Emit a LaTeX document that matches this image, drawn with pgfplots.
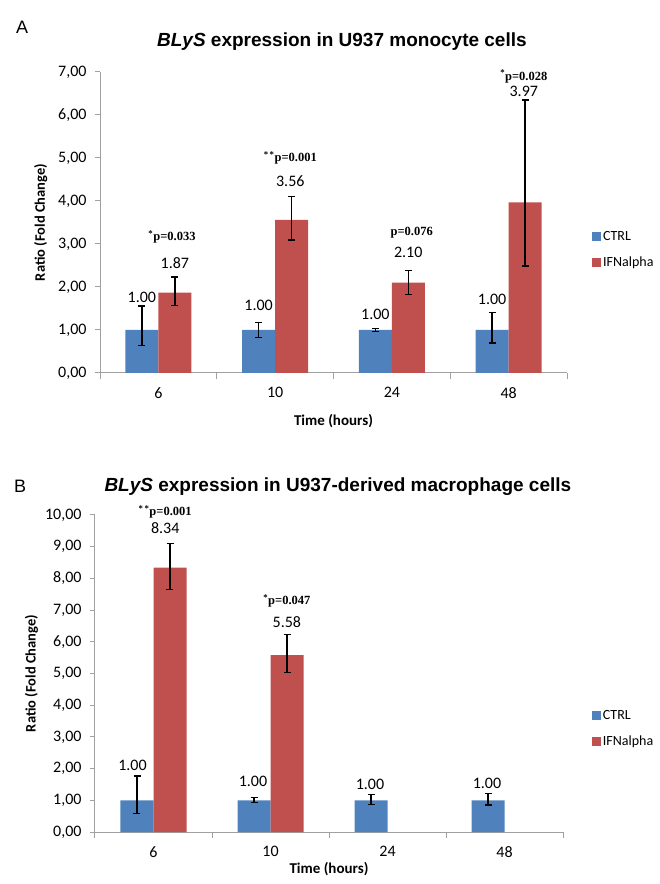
\documentclass[border=0pt]{standalone}
\usepackage{fontspec}
\setmainfont{Carlito}
\newfontfamily\arialf{Liberation Sans}
\newfontfamily\timesf{Liberation Serif}
\usepackage{pgfplots}
\pgfplotsset{compat=1.18}
\definecolor{cblue}{HTML}{4F81BD}
\definecolor{cred}{HTML}{C0504D}
\definecolor{axgray}{HTML}{A0A0A0}
\newcommand{\vl}{\fontsize{16}{16}\selectfont}
\newcommand{\pv}{\timesf\bfseries\fontsize{12.5}{12.5}\selectfont}
\pgfplotsset{
 myaxis/.style={
  scale only axis,
  anchor=south west,
  clip=false,
  xmin=-0.5,xmax=3.5,ymin=0,
  axis x line*=bottom, axis y line*=left,
  axis line style={axgray,line width=1pt,-},
  xtick={0,1,2,3}, xticklabels={6,10,24,48},
  minor xtick={-0.5,0.5,1.5,2.5,3.5},
  major x tick style={draw=none},
  minor x tick style={axgray,line width=1pt},
  minor tick length=6pt,
  major tick length=5pt,
  tick align=outside,
  y tick style={axgray,line width=1pt},
  ytick distance=1,
  tick label style={font=\fontsize{16}{16}\selectfont},
  xticklabel style={yshift=-6pt},
  yticklabel style={xshift=-5pt,/pgf/number format/.cd, fixed, fixed zerofill, precision=2, use comma, assume math mode=true},
  xlabel={Time (hours)},
  ylabel={Ratio (Fold Change)},
  xlabel style={font=\bfseries\fontsize{15}{15}\selectfont},
  ylabel style={font=\bfseries\fontsize{14.5}{15}\selectfont},
  ybar, bar width=33pt,
  legend style={draw=none, fill=none, font=\fontsize{14}{14}\selectfont, anchor=west, row sep=11pt},
  legend cell align=left,
  legend image code/.code={\path[#1,draw=none] (0pt,-4.5pt) rectangle (9pt,4.5pt);},
  error bars/y dir=both, error bars/y explicit,
  error bars/error bar style={black,line width=1.3pt},
  error bars/error mark options={black,line width=1.3pt,mark size=3.5pt,rotate=90},
  title style={font=\arialf\bfseries\fontsize{19}{19}\selectfont, anchor=center},
 },
}
\begin{document}
\begin{tikzpicture}
\useasboundingbox (0,0) rectangle (660pt,884pt);
% ---------- Panel A ----------
\begin{axis}[myaxis,
  at={(100pt,511pt)}, width=467pt, height=301pt, ymax=7,
  title={\textit{BLyS} expression in U937 monocyte cells},
  title style={at={(axis description cs:0.518,1.08)}},
  legend style={at={(axis description cs:1.047,0.41)}},
  xlabel style={yshift=-9pt},
  ylabel style={yshift=4pt},
]
\addplot[fill=cblue, draw=none, bar shift=-16.5pt] coordinates {
 (0,1) += (0,0.56) -= (0,0.365)
 (1,1) += (0,0.18) -= (0,0.18)
 (2,1) += (0,0.04) -= (0,0.04)
 (3,1) += (0,0.40) -= (0,0.30)
};
\addplot[fill=cred, draw=none, bar shift=16.5pt] coordinates {
 (0,1.87) += (0,0.36) -= (0,0.30)
 (1,3.56) += (0,0.54) -= (0,0.47)
 (2,2.10) += (0,0.28) -= (0,0.27)
 (3,3.97) += (0,2.38) -= (0,1.48)
};
\legend{CTRL,IFNalpha}
\node[font=\vl] at (axis cs:-0.141,1.77) {1.00};
\node[font=\vl] at (axis cs:0.141,2.56) {1.87};
\node[font=\pv] at (axis cs:0.117,3.16) {\textsuperscript{*}p=0.033};
\node[font=\vl] at (axis cs:0.859,1.57) {1.00};
\node[font=\vl] at (axis cs:1.13,4.45) {3.56};
\node[font=\pv] at (axis cs:1.13,5.0) {\textsuperscript{*\,*}p=0.001};
\node[font=\vl] at (axis cs:1.859,1.37) {1.00};
\node[font=\vl] at (axis cs:2.14,2.81) {2.10};
\node[font=\pv] at (axis cs:2.17,3.26) {p=0.076};
\node[font=\vl] at (axis cs:2.859,1.71) {1.00};
\node[font=\vl] at (axis cs:3.13,6.54) {3.97};
\node[font=\pv] at (axis cs:3.13,6.9) {\textsuperscript{*}p=0.028};
\node[font=\arialf\fontsize{18}{18}\selectfont] at (axis description cs:-0.167,1.15) {A};
\end{axis}
% ---------- Panel B ----------
\begin{axis}[myaxis,
  at={(95pt,52pt)}, width=468pt, height=317pt, ymax=10,
  title={\textit{BLyS} expression in U937-derived macrophage cells},
  title style={at={(axis description cs:0.519,1.072)}},
  legend style={at={(axis description cs:1.055,0.327)}},
  xlabel style={yshift=2pt},
  ylabel style={yshift=0pt},
]
\addplot[fill=cblue, draw=none, bar shift=-16.5pt] coordinates {
 (0,1) += (0,0.77) -= (0,0.41)
 (1,1) += (0,0.08) -= (0,0.08)
 (2,1) += (0,0.19) -= (0,0.13)
 (3,1) += (0,0.21) -= (0,0.15)
};
\addplot[fill=cred, draw=none, bar shift=16.5pt] coordinates {
 (0,8.34) += (0,0.77) -= (0,0.68)
 (1,5.58) += (0,0.66) -= (0,0.55)
};
\legend{CTRL,IFNalpha}
\node[font=\vl] at (axis cs:-0.18,2.10) {1.00};
\node[font=\vl] at (axis cs:0.10,9.60) {8.34};
\node[font=\pv] at (axis cs:0.10,10.09) {\textsuperscript{*\,*}p=0.001};
\node[font=\vl] at (axis cs:0.85,1.61) {1.00};
\node[font=\vl] at (axis cs:1.14,6.62) {5.58};
\node[font=\pv] at (axis cs:1.14,7.29) {\textsuperscript{*}p=0.047};
\node[font=\vl] at (axis cs:1.85,1.50) {1.00};
\node[font=\vl] at (axis cs:2.85,1.52) {1.00};
\node[font=\arialf\fontsize{18}{18}\selectfont] at (axis description cs:-0.160,1.09) {B};
\end{axis}
\end{tikzpicture}
\end{document}
